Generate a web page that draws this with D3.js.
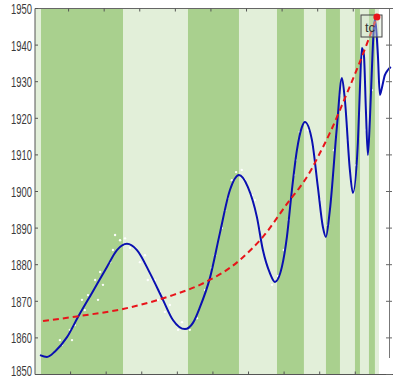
<!DOCTYPE html>
<html><head><meta charset="utf-8">
<script src="https://cdn.jsdelivr.net/npm/d3@7"></script>
<style>html,body{margin:0;padding:0;background:#fff;}</style>
</head><body>
<script>
// ---- data ----
const yTicks = [1850,1860,1870,1880,1890,1900,1910,1920,1930,1940,1950];
const xTicks = [1,2,3,4,5,6,7,8,9];
// regime band edges (x units) — alternating light / dark
const bandEdges = [0,0.169,2.473,4.299,5.732,6.800,7.558,8.176,8.570,8.991,9.132,9.384,9.553,9.665];
const bandKinds = ["light","dark","light","dark","light","dark","light","dark","light","dark","light","dark","light"];
// fitted oscillating curve
const fitX = [0.140,0.337,0.562,0.899,1.208,1.601,2.022,2.303,2.584,2.865,3.230,3.596,3.876,4.213,4.438,4.635,4.916,5.197,5.478,5.730,5.983,6.236,6.404,6.601,6.742,6.938,7.079,7.219,7.360,7.500,7.584,7.781,7.949,8.090,8.174,8.287,8.483,8.624,8.708,8.848,8.933,9.073,9.129,9.185,9.242,9.298,9.354,9.410,9.466,9.522,9.551,9.635,9.691,9.747,9.831,9.916,10.000];
const fitY = [1855.3,1854.8,1856.3,1860.2,1865.7,1872.3,1879.4,1884.0,1885.7,1884.0,1877.7,1870.4,1864.9,1862.4,1864.1,1868.4,1876.4,1888.7,1900.4,1904.5,1901.2,1893.0,1884.0,1877.7,1875.3,1879.4,1887.6,1900.4,1911.3,1917.6,1919.0,1914.1,1901.2,1890.3,1887.6,1895.0,1917.6,1931.0,1925.0,1905.9,1899.6,1913.3,1927.7,1939.2,1937.3,1922.3,1910.0,1919.5,1933.2,1944.7,1946.9,1937.3,1926.4,1928.3,1931.8,1933.2,1934.0];
// power-law trend (red dashed)
const trendX = [0.225,1.264,2.472,3.876,4.635,5.758,6.404,7.163,7.444,7.725,8.006,8.287,8.708,9.129,9.607];
const trendY = [1864.6,1866.0,1867.9,1871.7,1874.5,1881.3,1887.6,1897.7,1901.2,1905.3,1910.5,1916.0,1925.5,1935.4,1947.7];
const tc = [9.607, 1947.7];
// observed points (white)
const obsX = [0.70,0.76,0.98,1.04,1.12,1.32,1.40,1.49,1.69,1.77,1.83,1.91,2.11,2.19,2.25,2.39,2.53,2.67,2.95,3.09,3.17,3.37,3.46,3.51,3.65,3.79,4.02,4.13,4.35,4.55,4.78,4.97,5.06,5.25,5.34,5.42,5.53,5.65,5.81,5.90,6.10,6.18,6.32,6.49,6.66,6.83,6.99,7.13,7.28,7.33,7.44,7.67,7.87,8.01,8.23,8.40,8.57,8.79,9.02,9.16,9.30,9.47,9.72];
const obsY = [1859.4,1858.1,1862.2,1859.4,1863.5,1870.4,1867.6,1871.7,1875.8,1870.4,1878.0,1874.5,1880.7,1884.0,1888.1,1886.7,1887.2,1884.6,1880.7,1882.6,1875.8,1875.8,1870.4,1872.6,1867.1,1869.0,1862.2,1864.3,1862.2,1865.4,1873.1,1879.1,1882.6,1890.0,1894.9,1898.2,1903.1,1905.3,1905.9,1903.1,1899.0,1897.7,1889.5,1880.7,1874.5,1876.9,1884.0,1892.2,1904.5,1908.6,1916.3,1916.8,1908.6,1897.7,1890.8,1911.3,1926.4,1914.1,1907.2,1935.9,1916.8,1927.7,1929.9];

// ---- drawing ----
const W = 400, H = 379;
const L = 35, R = 393, T = 8.5, B = 374.5;
const svg = d3.select("body").append("svg").attr("width", W).attr("height", H)
  .style("font-family", "'Liberation Sans Narrow','Liberation Sans',Arial,sans-serif");
const x = d3.scaleLinear().domain([0, 10.06]).range([L, R]);
const y = d3.scaleLinear().domain([1850, 1950]).range([B, T]);
const colors = {light: "#e2efd9", dark: "#a9d08e"};

svg.append("defs").append("clipPath").attr("id","clip")
  .append("rect").attr("x", L).attr("y", T).attr("width", R - L).attr("height", B - T);
const g = svg.append("g").attr("clip-path", "url(#clip)");

g.selectAll("rect.band").data(bandKinds).enter().append("rect")
  .attr("x", (d,i) => x(bandEdges[i]))
  .attr("width", (d,i) => x(bandEdges[i+1]) - x(bandEdges[i]))
  .attr("y", T).attr("height", B - T)
  .attr("fill", d => colors[d]);

g.selectAll("circle.obs").data(obsX).enter().append("circle")
  .attr("cx", (d,i) => x(d)).attr("cy", (d,i) => y(obsY[i]))
  .attr("r", 1.2).attr("fill", "#ffffff").attr("opacity", 0.95);

g.append("path").datum(fitX.map((v,i) => [v, fitY[i]]))
  .attr("d", d3.line().x(d => x(d[0])).y(d => y(d[1])).curve(d3.curveMonotoneX))
  .attr("fill", "none").attr("stroke", "#0a10b0").attr("stroke-width", 2);

g.append("path").datum(trendX.map((v,i) => [v, trendY[i]]))
  .attr("d", d3.line().x(d => x(d[0])).y(d => y(d[1])).curve(d3.curveMonotoneX))
  .attr("fill", "none").attr("stroke", "#e8141a").attr("stroke-width", 2)
  .attr("stroke-dasharray", "6,4");

// tc box
svg.append("rect").attr("x", 361).attr("y", 15).attr("width", 21).attr("height", 22)
  .attr("fill", "#d8e6cf").attr("fill-opacity", 0.4).attr("stroke", "#444").attr("stroke-width", 1);
svg.append("text").attr("x", 370).attr("y", 32).attr("text-anchor", "middle")
  .attr("font-size", 13).attr("fill", "#333").text("tc");
svg.append("circle").attr("cx", x(tc[0])).attr("cy", y(tc[1])).attr("r", 3.5).attr("fill", "#e8141a");

// axes frame
const ax = svg.append("g").attr("stroke", "#555").attr("fill", "none");
ax.append("line").attr("x1", L).attr("x2", L).attr("y1", T).attr("y2", B);
ax.append("line").attr("x1", L).attr("x2", R).attr("y1", T).attr("y2", T).attr("stroke", "#666");
ax.append("line").attr("x1", L).attr("x2", R).attr("y1", B).attr("y2", B);
ax.append("line").attr("x1", 389.5).attr("x2", 389.5).attr("y1", T).attr("y2", 358).attr("stroke", "#777");

// y ticks + labels
yTicks.forEach(v => {
  ax.append("line").attr("x1", L).attr("x2", L + 3).attr("y1", y(v)).attr("y2", y(v));
  ax.append("line").attr("x1", 386).attr("x2", 392).attr("y1", y(v)).attr("y2", y(v)).attr("stroke", "#666");
  svg.append("text").attr("x", 32).attr("y", Math.min(y(v) + 5.5, 376)).attr("text-anchor", "end")
    .attr("font-size", 15).attr("fill", "#3a3a3a")
    .attr("textLength", 21).attr("lengthAdjust", "spacingAndGlyphs").text(v);
});
// x ticks (no labels)
xTicks.forEach(v => {
  ax.append("line").attr("x1", x(v)).attr("x2", x(v)).attr("y1", B).attr("y2", B - 3);
  ax.append("line").attr("x1", x(v) - 2).attr("x2", x(v) - 2).attr("y1", T).attr("y2", T + 3);
});
</script>
</body></html>
